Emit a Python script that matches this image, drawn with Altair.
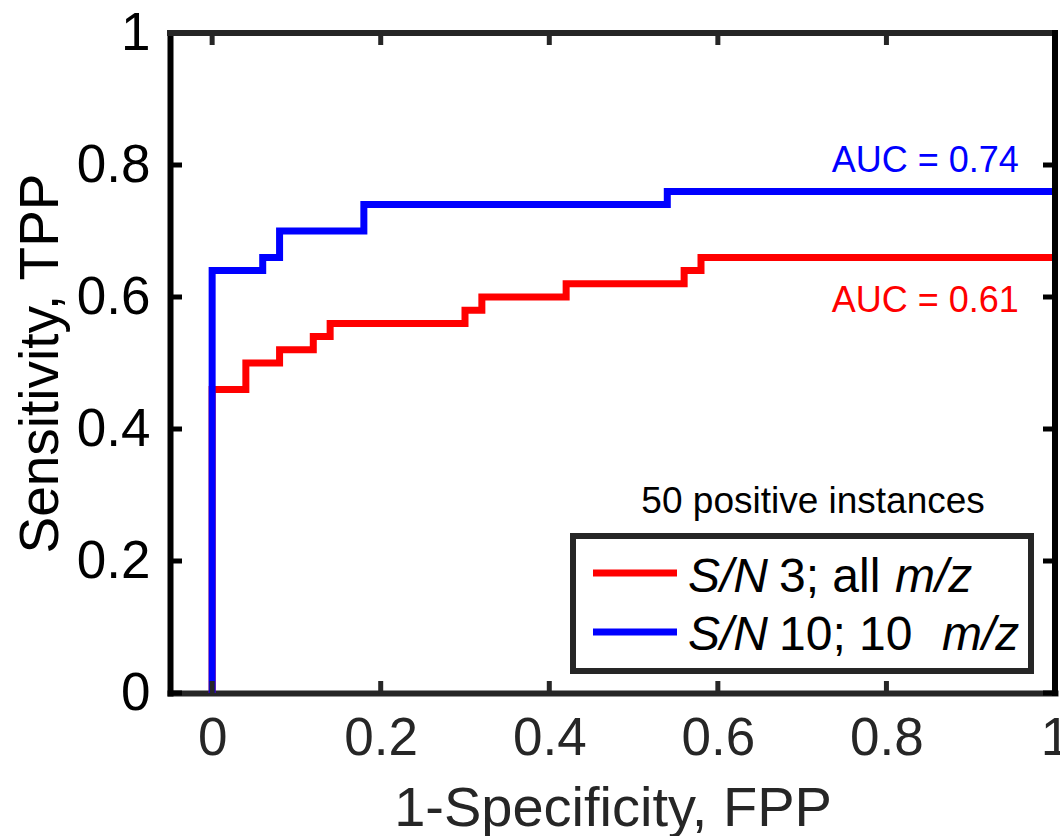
import altair as alt
import pandas as pd

# ---- data ----
fpp_blue = [0, 0, 0.06, 0.08, 0.18, 0.54, 1.0]
tpp_blue = [0, 0.64, 0.66, 0.70, 0.74, 0.76, 0.76]
fpp_red = [0, 0, 0.04, 0.08, 0.12, 0.14, 0.30, 0.32, 0.42, 0.56, 0.58, 1.0]
tpp_red = [0, 0.46, 0.50, 0.52, 0.54, 0.56, 0.58, 0.60, 0.62, 0.64, 0.66, 0.66]
x_ticks = [0, 0.2, 0.4, 0.6, 0.8, 1]
y_ticks = [0, 0.2, 0.4, 0.6, 0.8, 1]
auc_text = ["AUC = 0.74", "AUC = 0.61"]
auc_x = [0.957, 0.957]
auc_y = [0.79, 0.578]
note_text = ["50 positive instances"]
note_x = [0.713]
note_y = [0.273]

FONT = "Liberation Sans"
W, H = 885, 660
RED, BLUE = "#ff0000", "#0000ff"
GRAY = "#262626"

xscale = alt.Scale(domain=[-0.05, 1], nice=False, zero=False)
yscale = alt.Scale(domain=[0, 1], nice=False, zero=False)

xaxis = alt.Axis(values=x_ticks, format="~g", title="1-Specificity, FPP", ticks=False, grid=False,
                 domainColor=GRAY, domainWidth=6, domainCap="square",
                 labelColor=GRAY, labelFontSize=53, labelFont=FONT, labelPadding=19,
                 labelFlush=False, labelOverlap=False, labelBound=False,
                 titleFontSize=56, titleFont=FONT, titleFontWeight="normal", titleColor=GRAY,
                 titleBaseline="alphabetic", titleY=132)
yaxis = alt.Axis(values=y_ticks, format="~g", title="Sensitivity, TPP", ticks=False, grid=False,
                 domainColor="#000000", domainWidth=6, domainCap="square",
                 labelColor="#000000", labelFontSize=53, labelFont=FONT, labelPadding=20,
                 labelFlush=False, labelOverlap=False, labelBound=False,
                 titleFontSize=55, titleFont=FONT, titleFontWeight="normal", titleColor="#000000",
                 titleBaseline="alphabetic", titleX=-113, titleAngle=270)

X = alt.X("x:Q", scale=xscale, axis=xaxis)
Y = alt.Y("y:Q", scale=yscale, axis=yaxis)

red_df = pd.DataFrame({"x": fpp_red, "y": tpp_red, "i": range(len(fpp_red))})
blue_df = pd.DataFrame({"x": fpp_blue, "y": tpp_blue, "i": range(len(fpp_blue))})

red_line = alt.Chart(red_df).mark_line(color=RED, strokeWidth=7, interpolate="step-after", clip=False).encode(
    x=X, y=Y, order=alt.Order("i:Q"))
blue_line = alt.Chart(blue_df).mark_line(color=BLUE, strokeWidth=7, interpolate="step-after", clip=False).encode(
    x=X, y=Y, order=alt.Order("i:Q"))

one = pd.DataFrame({"a": [0]})
xt_df = pd.DataFrame({"x": x_ticks})
yt_df = pd.DataFrame({"y": y_ticks})

tick_bottom = alt.Chart(xt_df).mark_rule(color=GRAY, strokeWidth=5).encode(
    x=X, y=alt.value(H), y2=alt.value(H - 12))
tick_top = alt.Chart(xt_df).mark_rule(color=GRAY, strokeWidth=5).encode(
    x=X, y=alt.value(0), y2=alt.value(12))
tick_left = alt.Chart(yt_df).mark_rule(color="#000000", strokeWidth=5).encode(
    y=Y, x=alt.value(0), x2=alt.value(12))
tick_right = alt.Chart(yt_df).mark_rule(color="#000000", strokeWidth=5).encode(
    y=Y, x=alt.value(W), x2=alt.value(W - 12))

top_edge = alt.Chart(one).mark_rule(color=GRAY, strokeWidth=6, strokeCap="square").encode(
    x=alt.value(0), x2=alt.value(W), y=alt.value(0))
right_edge = alt.Chart(one).mark_rule(color="#000000", strokeWidth=6, strokeCap="square").encode(
    x=alt.value(W), y=alt.value(0), y2=alt.value(H))

auc_df = pd.DataFrame({"x": auc_x, "y": auc_y, "t": auc_text, "c": ["b", "r"]})
auc = alt.Chart(auc_df).mark_text(align="right", baseline="alphabetic", font=FONT, fontSize=36).encode(
    x=X, y=Y, text="t:N",
    color=alt.Color("c:N", scale=alt.Scale(domain=["b", "r"], range=[BLUE, RED]), legend=None))

note_df = pd.DataFrame({"x": note_x, "y": note_y, "t": note_text})
note = alt.Chart(note_df).mark_text(align="center", baseline="alphabetic", font=FONT, fontSize=37,
                                    color="#000000").encode(x=X, y=Y, text="t:N")

# ---- hand-built legend (mixed italic / upright text) ----
legend_box = alt.Chart(one).mark_rect(fill="white", stroke=GRAY, strokeWidth=6).encode(
    x=alt.value(403), x2=alt.value(861), y=alt.value(503), y2=alt.value(638))
leg_red = alt.Chart(one).mark_rule(color=RED, strokeWidth=7).encode(
    x=alt.value(423), x2=alt.value(507), y=alt.value(540))
leg_blue = alt.Chart(one).mark_rule(color=BLUE, strokeWidth=7).encode(
    x=alt.value(423), x2=alt.value(507), y=alt.value(599))


def seg(txt, px, py, italic):
    return alt.Chart(pd.DataFrame({"t": [txt]})).mark_text(
        align="left", baseline="alphabetic", font=FONT, fontSize=48, color="#000000",
        fontStyle="italic" if italic else "normal").encode(
        x=alt.value(px), y=alt.value(py), text="t:N")


legend_texts = [
    seg("S/N", 518, 559, True), seg("3; all", 609, 559, False), seg("m/z", 725, 559, True),
    seg("S/N", 518, 617, True), seg("10; 10", 609, 617, False), seg("m/z", 772, 617, True),
]

chart = alt.layer(
    red_line, blue_line,
    tick_bottom, tick_top, tick_left, tick_right, top_edge, right_edge,
    auc, note, legend_box, leg_red, leg_blue, *legend_texts
).properties(
    width=W, height=H,
    autosize=alt.AutoSizeParams(type="none"),
    padding={"left": 170, "top": 33, "right": 5, "bottom": 143},
    background="white",
).configure_view(stroke="transparent")

chart.save("out.html", embed_options={"renderer": "svg", "actions": False})
